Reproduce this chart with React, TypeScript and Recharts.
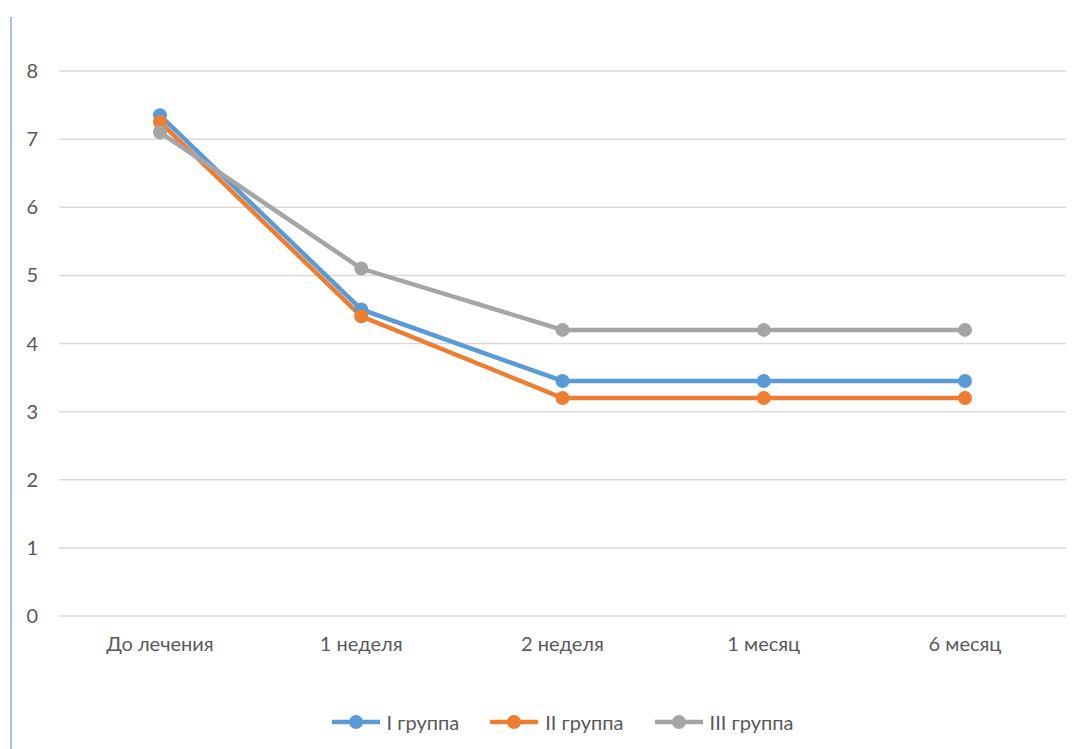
import React from 'react';
import { LineChart, Line, XAxis, YAxis, CartesianGrid } from 'recharts';

const periods = ['До лечения', '1 неделя', '2 неделя', '1 месяц', '6 месяц'];
const group1 = [7.35, 4.5, 3.45, 3.45, 3.45];
const group2 = [7.25, 4.4, 3.2, 3.2, 3.2];
const group3 = [7.1, 5.1, 4.2, 4.2, 4.2];
const yTicks = [0, 1, 2, 3, 4, 5, 6, 7, 8];

const series = [
  { key: 'g1', name: 'I группа', color: '#5b9bd5' },
  { key: 'g2', name: 'II группа', color: '#ed7d31' },
  { key: 'g3', name: 'III группа', color: '#a5a5a5' },
];

const data = periods.map((p, i) => ({ period: p, g1: group1[i], g2: group2[i], g3: group3[i] }));

const FONT = 'Lato, "Open Sans", sans-serif';
const TEXT = '#595959';
const FONT_SIZE = 20;

const LegendRow = () => (
  <div
    style={{
      position: 'absolute',
      top: 709,
      left: 59,
      width: 1007,
      display: 'flex',
      justifyContent: 'center',
      gap: 31,
      fontFamily: FONT,
      fontSize: FONT_SIZE,
      color: TEXT,
    }}
  >
    {series.map((s) => (
      <div key={s.key} style={{ display: 'flex', alignItems: 'center' }}>
        <svg width={48} height={26} style={{ marginRight: 7 }}>
          <line x1={0} y1={13} x2={48} y2={13} stroke={s.color} strokeWidth={4.5} />
          <circle cx={24} cy={13} r={7} fill={s.color} />
        </svg>
        <span>{s.name}</span>
      </div>
    ))}
  </div>
);

export default function App() {
  return (
    <div style={{ position: 'absolute', left: 0, top: 0, width: 1080, height: 749, background: '#fff' }}>
      <div style={{ position: 'absolute', left: 10, top: 17, width: 2, height: 732, background: '#9dc3e6' }} />
      <LineChart width={1080} height={749} data={data} margin={{ top: 71, right: 14, bottom: 93, left: 0 }}>
        <CartesianGrid horizontal vertical={false} stroke="#d9d9d9" strokeWidth={1.5} />
        <XAxis
          dataKey="period"
          axisLine={false}
          tickLine={false}
          tickSize={0}
          tickMargin={21}
          height={40}
          padding={{ left: 101, right: 101 }}
          tick={{ fill: TEXT, fontSize: FONT_SIZE, fontFamily: FONT }}
        />
        <YAxis
          domain={[0, 8]}
          ticks={yTicks}
          axisLine={false}
          tickLine={false}
          tickSize={0}
          tickMargin={21}
          width={59}
          tick={{ fill: TEXT, fontSize: FONT_SIZE, fontFamily: FONT }}
        />
        {series.map((s) => (
          <Line
            key={s.key}
            dataKey={s.key}
            name={s.name}
            type="linear"
            stroke={s.color}
            strokeWidth={4.5}
            dot={{ r: 7, fill: s.color, stroke: s.color, strokeWidth: 0 }}
            activeDot={false}
            isAnimationActive={false}
          />
        ))}
      </LineChart>
      <LegendRow />
    </div>
  );
}
